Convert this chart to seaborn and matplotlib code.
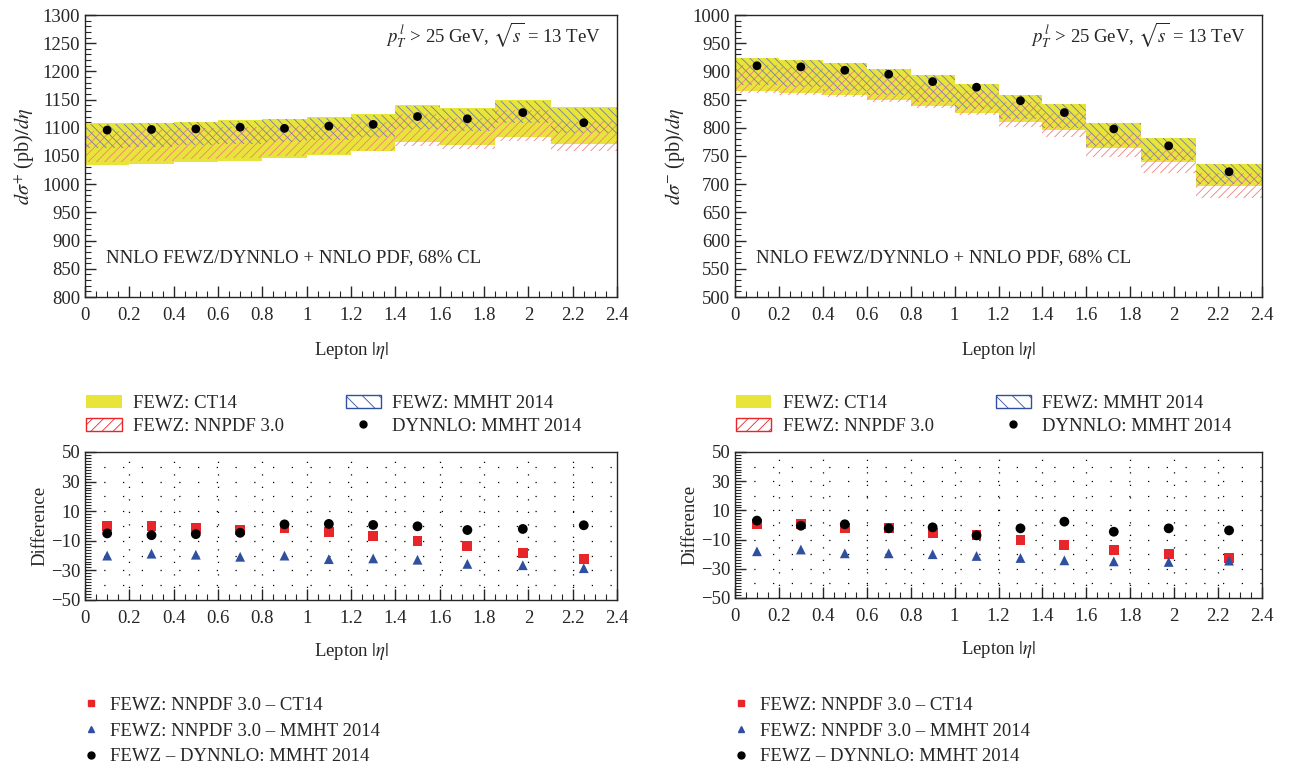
import numpy as np
import matplotlib
matplotlib.use("Agg")
import matplotlib.pyplot as plt
import seaborn as sns
import pandas as pd
from matplotlib.patches import Patch
from matplotlib.lines import Line2D
from matplotlib.ticker import MultipleLocator

# ---------------- data ----------------
bin_edges = [0, 0.2, 0.4, 0.6, 0.8, 1.0, 1.2, 1.4, 1.6, 1.85, 2.1, 2.4]
eta_centers = [0.1, 0.3, 0.5, 0.7, 0.9, 1.1, 1.3, 1.5, 1.725, 1.975, 2.25]
eta_ticklabels = ["0", "0.2", "0.4", "0.6", "0.8", "1", "1.2", "1.4", "1.6", "1.8", "2", "2.2", "2.4"]

# W+ (left)
ct14_lo_p = [1034, 1035, 1039, 1042, 1046, 1051, 1059, 1074, 1069, 1084, 1071]
ct14_hi_p = [1108, 1109, 1111, 1113, 1116, 1119, 1124, 1140, 1135, 1149, 1136]
nnpdf_lo_p = [1040, 1041, 1044, 1047, 1050, 1053, 1058, 1068, 1063, 1076, 1058]
nnpdf_hi_p = [1095, 1097, 1099, 1101, 1104, 1106, 1110, 1124, 1118, 1131, 1112]
mmht_lo_p = [1065, 1066, 1069, 1072, 1074, 1078, 1083, 1098, 1094, 1108, 1090]
mmht_hi_p = [1106, 1108, 1110, 1112, 1115, 1118, 1123, 1139, 1134, 1148, 1135]
dynnlo_p = [1096, 1097, 1098, 1101, 1099, 1103, 1106, 1120, 1116, 1127, 1109]

# W- (right)
ct14_lo_m = [865, 862, 858, 849, 839, 826, 810, 796, 764, 740, 697]
ct14_hi_m = [924, 920, 915, 905, 893, 878, 859, 843, 808, 782, 736]
nnpdf_lo_m = [862, 859, 855, 845, 835, 822, 802, 784, 748, 720, 676]
nnpdf_hi_m = [912, 908, 902, 893, 880, 866, 846, 827, 790, 762, 720]
mmht_lo_m = [875, 872, 866, 858, 846, 833, 815, 800, 768, 743, 700]
mmht_hi_m = [924, 920, 915, 905, 893, 878, 859, 843, 808, 782, 736]
dynnlo_m = [910, 908, 902, 895, 882, 872, 848, 827, 798, 768, 722]

# differences
d_nn_ct_p = [0.0, 0.0, -1.4, -2.5, -1.6, -3.9, -6.6, -10.3, -13.5, -18.0, -22.4]
d_nn_mm_p = [-20.0, -18.7, -19.4, -20.8, -20.0, -22.4, -21.9, -22.8, -25.6, -26.5, -28.5]
d_fz_dy_p = [-5.0, -6.2, -5.5, -4.6, 1.1, 1.4, 0.7, -0.2, -2.7, -2.0, 0.5]

d_nn_ct_m = [0.7, 0.5, -2.3, -2.3, -5.5, -7.1, -10.4, -13.8, -17.3, -20.0, -22.4]
d_nn_mm_m = [-18.0, -16.8, -19.4, -19.4, -20.0, -21.2, -22.6, -24.2, -24.9, -25.3, -24.4]
d_fz_dy_m = [3.0, -0.5, 0.5, -2.3, -1.6, -7.1, -2.3, 2.3, -4.6, -2.3, -3.7]

# ---------------- style ----------------
sns.set_theme(style="ticks")
plt.rcParams["font.family"] = ["Liberation Serif", "DejaVu Serif"]
plt.rcParams["mathtext.fontset"] = "stix"
plt.rcParams["hatch.linewidth"] = 0.6
plt.rcParams["xtick.direction"] = "in"
plt.rcParams["ytick.direction"] = "in"

YELLOW = "#e9e43a"
RED = "#f08080"
BLUE = "#6f7fa8"
FS = 13.5

fig = plt.figure(figsize=(12.89, 7.69), dpi=100)
W, H = 1289, 769

def fax(x0, x1, ytop, ybot):
    return fig.add_axes([x0 / W, 1 - ybot / H, (x1 - x0) / W, (ybot - ytop) / H])

ax_tl = fax(85, 617, 15, 297)
ax_tr = fax(735, 1262, 15, 297)
ax_bl = fax(85, 617, 452, 600)
ax_br = fax(735, 1262, 452, 598)

def step(arr):
    return list(arr) + [arr[-1]]

def common_x(ax, lp):
    ax.set_xlim(0, 2.4)
    ax.set_xticks(np.arange(0, 2.41, 0.2))
    ax.set_xticklabels(eta_ticklabels)
    ax.xaxis.set_minor_locator(MultipleLocator(0.05))
    ax.tick_params(axis="both", which="major", labelsize=FS, length=8, width=1.0)
    ax.tick_params(axis="x", which="major", pad=7)
    ax.tick_params(axis="both", which="minor", length=4, width=0.8)
    ax.set_xlabel(r"Lepton $|\eta|$", fontsize=FS, labelpad=lp)
    for s in ax.spines.values():
        s.set_linewidth(1.0)

def top_panel(ax, ct_lo, ct_hi, nn_lo, nn_hi, mm_lo, mm_hi, dy, ylim, sign):
    ax.fill_between(bin_edges, step(ct_lo), step(ct_hi), step="post",
                    facecolor=YELLOW, edgecolor="none", linewidth=0)
    ax.fill_between(bin_edges, step(nn_lo), step(nn_hi), step="post",
                    facecolor="none", edgecolor=RED, hatch="////", linewidth=0)
    ax.fill_between(bin_edges, step(mm_lo), step(mm_hi), step="post",
                    facecolor="none", edgecolor=BLUE, hatch="\\\\\\\\", linewidth=0)
    df = pd.DataFrame({"eta": eta_centers, "xs": dy})
    sns.scatterplot(data=df, x="eta", y="xs", ax=ax, color="black", s=40,
                    edgecolor="none", zorder=5, legend=False)
    ax.set_ylim(*ylim)
    ax.yaxis.set_major_locator(MultipleLocator(50))
    ax.yaxis.set_minor_locator(MultipleLocator(10))
    common_x(ax, 12)
    ax.set_ylabel(r"$d\sigma^{%s}$ (pb)$/d\eta$" % sign, fontsize=FS + 1, labelpad=4)
    ax.text(0.97, 0.93, r"$p_T^{\,l}$ > 25 GeV, $\sqrt{s}$ = 13 TeV", transform=ax.transAxes,
            ha="right", va="center", fontsize=FS)
    ax.text(0.04, 0.14, "NNLO FEWZ/DYNNLO + NNLO PDF, 68% CL", transform=ax.transAxes,
            ha="left", va="center", fontsize=FS)

top_panel(ax_tl, ct14_lo_p, ct14_hi_p, nnpdf_lo_p, nnpdf_hi_p, mmht_lo_p, mmht_hi_p,
          dynnlo_p, (800, 1300), "+")
top_panel(ax_tr, ct14_lo_m, ct14_hi_m, nnpdf_lo_m, nnpdf_hi_m, mmht_lo_m, mmht_hi_m,
          dynnlo_m, (500, 1000), "-")

def bottom_panel(ax, dnc, dnm, dfd):
    df = pd.DataFrame({
        "eta": eta_centers * 3,
        "diff": dnc + dnm + dfd,
        "kind": ["nc"] * 11 + ["nm"] * 11 + ["fd"] * 11,
    })
    sns.scatterplot(data=df, x="eta", y="diff", hue="kind", style="kind", ax=ax,
                    palette={"nc": "#e8262a", "nm": "#2f4f9f", "fd": "black"},
                    markers={"nc": "s", "nm": "^", "fd": "o"},
                    s=50, edgecolor="none", legend=False, zorder=5)
    ax.set_ylim(-50, 50)
    ax.set_yticks([-50, -30, -10, 10, 30, 50])
    ax.yaxis.set_minor_locator(MultipleLocator(2))
    common_x(ax, 10)
    for yv in range(-40, 50, 10):
        ax.axhline(yv, color="black", lw=0.9, ls=(0, (1, 14)), zorder=1)
    for xv in np.arange(0.2, 2.4, 0.2):
        ax.axvline(xv, color="black", lw=0.9, ls=(0, (1, 9)), zorder=1)
    ax.set_ylabel("Difference", fontsize=FS, labelpad=2)

bottom_panel(ax_bl, d_nn_ct_p, d_nn_mm_p, d_fz_dy_p)
bottom_panel(ax_br, d_nn_ct_m, d_nn_mm_m, d_fz_dy_m)

# ---------------- legends ----------------
band_handles = [
    Patch(facecolor=YELLOW, edgecolor="none", label="FEWZ: CT14"),
    Patch(facecolor="none", edgecolor="#e8262a", hatch="///", label="FEWZ: NNPDF 3.0"),
    Patch(facecolor="none", edgecolor="#3050a0", hatch="\\\\", label="FEWZ: MMHT 2014"),
    Line2D([], [], ls="none", marker="o", color="black", markersize=5, label="DYNNLO: MMHT 2014"),
]
diff_handles = [
    Line2D([], [], ls="none", marker="s", color="#e8262a", markersize=5, label="FEWZ: NNPDF 3.0 – CT14"),
    Line2D([], [], ls="none", marker="^", color="#2f4f9f", markersize=5, label="FEWZ: NNPDF 3.0 – MMHT 2014"),
    Line2D([], [], ls="none", marker="o", color="black", markersize=5, label="FEWZ – DYNNLO: MMHT 2014"),
]

for x0 in (69, 719):
    fig.legend(handles=band_handles, ncol=2, loc="upper left",
               bbox_to_anchor=(x0 / W, 1 - 378 / H), frameon=False, fontsize=FS,
               handlelength=1.9, handleheight=0.7, columnspacing=3.3, labelspacing=0.3,
               handletextpad=0.6)
    fig.legend(handles=diff_handles, ncol=1, loc="upper left",
               bbox_to_anchor=((x0 - 4) / W, 1 - 680 / H), frameon=False, fontsize=FS,
               handlelength=1.0, labelspacing=0.45, handletextpad=0.5)

fig.savefig("out.png", dpi=100)
